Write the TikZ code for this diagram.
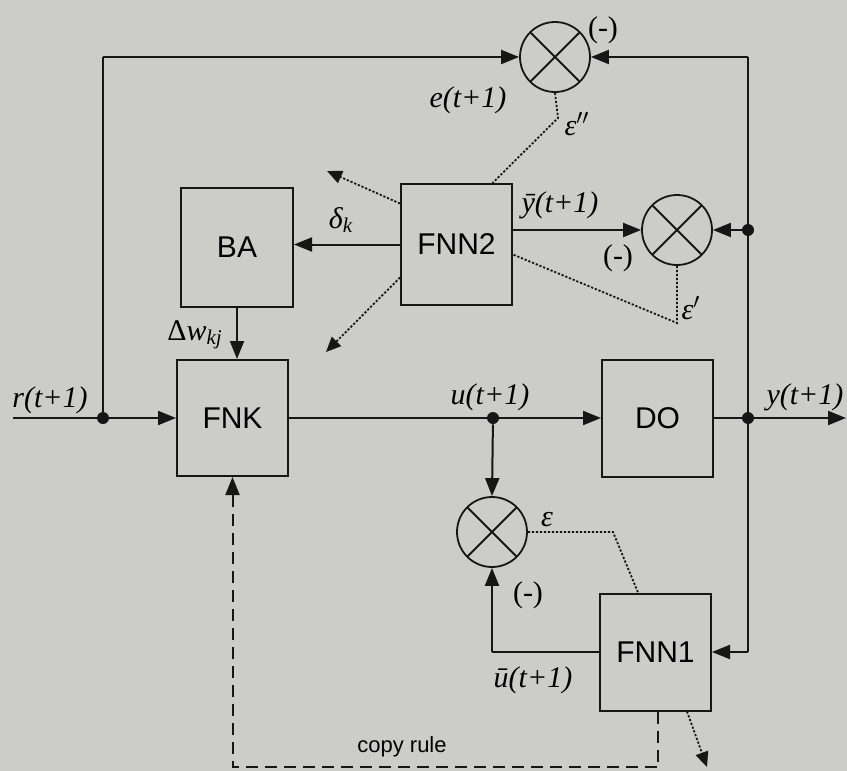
\documentclass[tikz,border=0pt]{standalone}
\usepackage{fontspec}
\setmainfont{Liberation Serif}
\setsansfont{Liberation Sans}
\usetikzlibrary{arrows.meta}
\definecolor{paper}{RGB}{204,204,201}
\definecolor{ink}{RGB}{22,22,22}
\begin{document}
\begin{tikzpicture}[x=0.5pt,y=-0.5pt,
  blk/.style={draw=ink, line width=1pt, font=\sffamily\fontsize{15}{18}\selectfont, inner sep=0pt},
  sum/.style={circle, draw=ink, line width=0.9pt, minimum size=35pt, inner sep=0pt,
    path picture={\draw[ink, line width=0.9pt] (path picture bounding box.north west) -- (path picture bounding box.south east)
      (path picture bounding box.north east) -- (path picture bounding box.south west);}},
  ln/.style={draw=ink, line width=1pt},
  arr/.style={draw=ink, line width=1pt, -{Triangle[length=9pt,width=7pt]}},
  dotln/.style={draw=ink, line width=0.9pt, dash pattern=on 1.1pt off 0.9pt},
  dotarr/.style={draw=ink, line width=0.9pt, dash pattern=on 1.1pt off 0.9pt, -{Triangle[length=7.5pt,width=6.5pt]}},
  dasharr/.style={draw=ink, line width=1pt, dash pattern=on 6pt off 3.5pt, -{Triangle[length=9pt,width=7pt]}},
  lbl/.style={font=\fontsize{15}{18}\selectfont\itshape, inner sep=0pt},
  up/.style={font=\fontsize{15}{18}\selectfont, inner sep=0pt},
  jdot/.style={circle, fill=ink, inner sep=0pt, minimum size=6pt}]
\fill[paper] (0,0) rectangle (847,771);
\useasboundingbox (0,0) rectangle (847,771);

% blocks
\node[blk, minimum width=55.5pt, minimum height=58pt] (FNK) at (232.5,418) {FNK};
\node[blk, minimum width=56pt, minimum height=59.5pt] (BA) at (237,247.5) {BA};
\node[blk, minimum width=55.5pt, minimum height=60.5pt] (FNN2) at (456.5,244.5) {FNN2};
\node[blk, minimum width=55.5pt, minimum height=58.5pt] (DO) at (657.5,418) {DO};
\node[blk, minimum width=55.5pt, minimum height=58.5pt] (FNN1) at (655.5,652) {FNN1};

% summing junctions
\node[sum] (S1) at (555,57) {};
\node[sum] (S2) at (677,230) {};
\node[sum] (S3) at (492,532) {};

% points
\coordinate (IN) at (13,418);
\node[jdot] (J1) at (103,418) {};
\node[jdot] (J2) at (493,418) {};
\node[jdot] (J3) at (748,418) {};
\node[jdot] (J4) at (748,230) {};
\coordinate (OUT) at (846,418);
\coordinate (TL) at (103,57);
\coordinate (TR) at (748,57);
\coordinate (RB) at (748,652);
\coordinate (E1) at (558,118);
\coordinate (E2) at (677,323);
\coordinate (E3) at (613,532);
\coordinate (A1) at (327,171);
\coordinate (A2) at (326,352);
\coordinate (A3) at (707,767);
\coordinate (D1) at (658,767);
\coordinate (D2) at (232.5,767);

% main signal path
\draw[ln] (IN) -- (J1);
\draw[arr] (J1) -- (FNK.west);
\draw[ln] (FNK.east) -- (J2);
\draw[arr] (J2) -- (DO.west);
\draw[ln] (DO.east) -- (J3);
\draw[arr] (J3) -- (OUT);

% feedback loops
\draw[ln] (J1) -- (TL);
\draw[arr] (TL) -- (S1.west);
\draw[arr] (TR) -- (S1.east);
\draw[ln] (TR) -- (RB);
\draw[arr] (RB) -- (FNN1.east);
\draw[arr] (J4) -- (S2.east);
\draw[arr] (FNN2.east |- S2.west) -- (S2.west);
\draw[arr] (FNN2.west) -- (FNN2.west -| BA.east);
\draw[arr] (BA.south) -- (BA.south |- FNK.north);
\draw[arr] (J2) -- (S3.north);
\draw[ln] (FNN1.west) -- (FNN1.west -| S3.south);
\draw[arr] (FNN1.west -| S3.south) -- (S3.south);
\draw[dasharr] (FNN1.south -| D1) -- (D1) -- (D2) -- (FNK.south);

% dotted error / learning lines
\draw[dotln] (S1.south) -- (E1) -- ([xshift=18pt]FNN2.north);
\draw[dotln] (S2.south) -- (E2) -- ([yshift=-5pt]FNN2.east);
\draw[dotarr] ([yshift=20.5pt]FNN2.west) -- (A1);
\draw[dotarr] ([yshift=-16.5pt]FNN2.west) -- (A2);
\draw[dotln] (S3.east) -- (E3) -- ([xshift=-8.75pt]FNN1.north);
\draw[dotarr] ([xshift=15.75pt]FNN1.south) -- (A3);

% labels
\node[lbl] (Lr) at (50,400) {r(t+1)};
\node[lbl] (Lu) at (490,397) {u(t+1)};
\node[lbl] (Ly) at (805,397) {y(t+1)};
\node[lbl] (Le) at (468,100) {e(t+1)};
\node[lbl] (Lyb) at (560,205) {\={y}(t+1)};
\node[lbl] (Lub) at (533,680) {\={u}(t+1)};
\node[up] (M1) at (603,30) {(-)};
\node[up] (M2) at (618,258) {(-)};
\node[up] (M3) at (528,595) {(-)};
\node[lbl] (Ld) at (341,220) {δ\textsubscript{k}};
\node[lbl] (Lw) at (195,335) {\upshape Δ\itshape w\textsubscript{kj}};
\node[lbl] (Le2) at (577,124) {ε$^{\prime\prime}$};
\node[lbl] (Le1) at (691,308) {ε$^{\prime}$};
\node[lbl] (Le0) at (547,520) {ε};
\node[font=\sffamily\fontsize{11}{13}\selectfont, inner sep=0pt] (Lc) at (402,747) {copy rule};
\end{tikzpicture}
\end{document}
